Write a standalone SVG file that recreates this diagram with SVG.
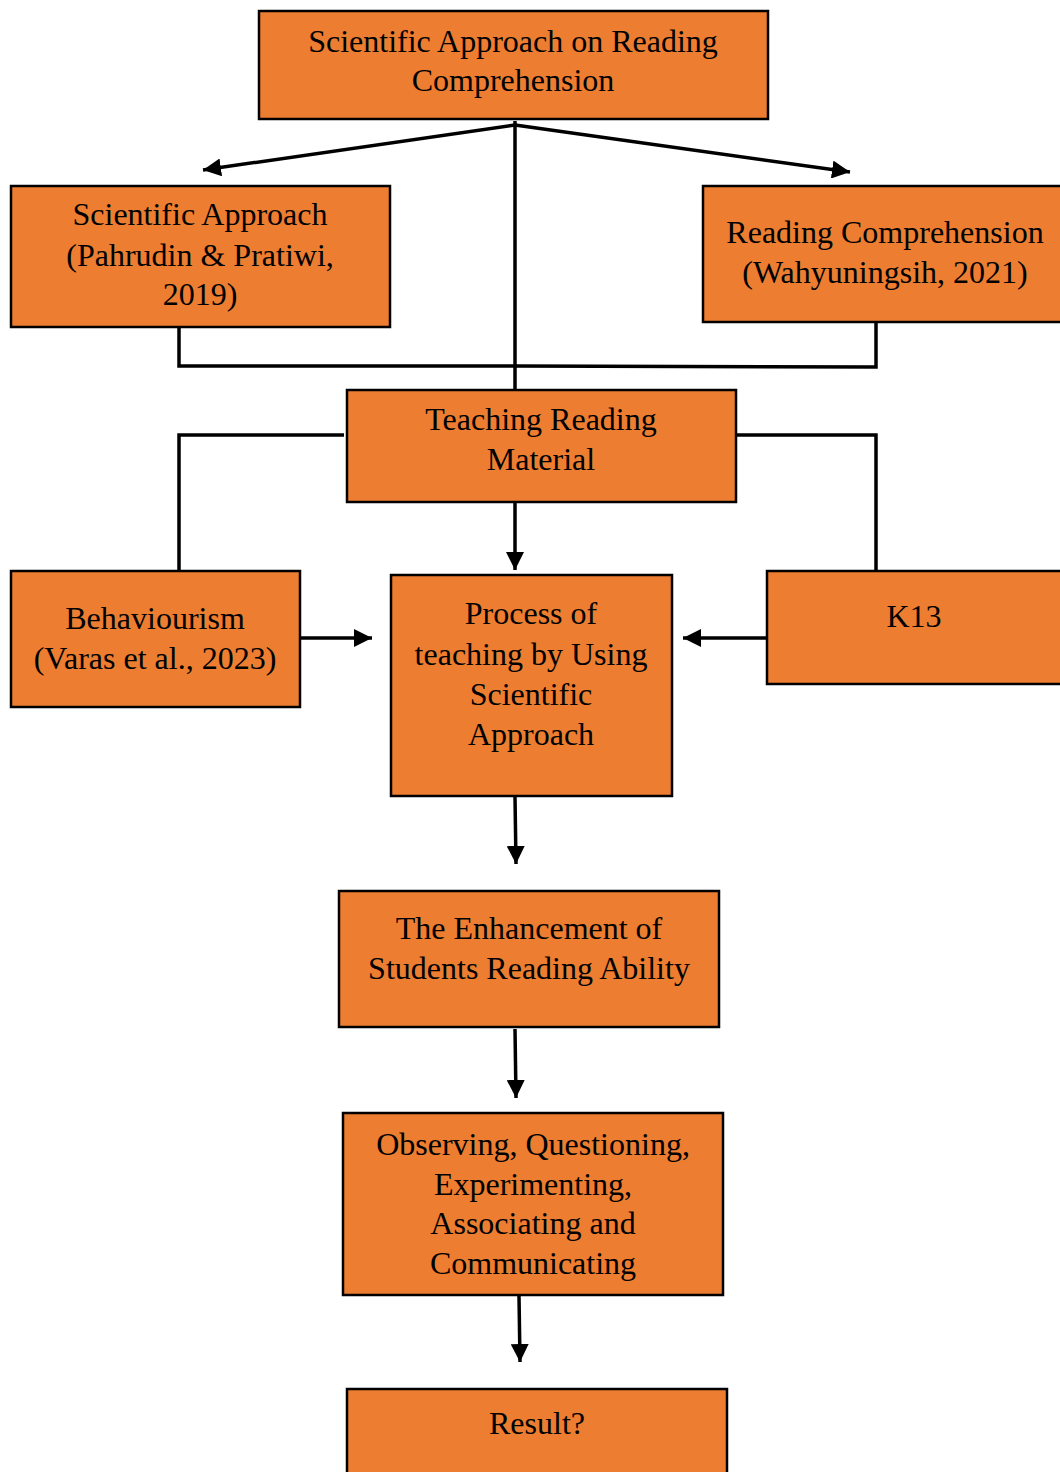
<svg xmlns="http://www.w3.org/2000/svg" width="1060" height="1472" viewBox="0 0 1060 1472">
<style>
.box{fill:#ED7D31;stroke:#000;stroke-width:2.5}
.t{font-family:"Liberation Serif","Times New Roman",serif;font-size:32px;fill:#000;text-anchor:middle}
.c{fill:none;stroke:#000;stroke-width:3.5}
</style>
<defs>
<marker id="ah" markerUnits="userSpaceOnUse" markerWidth="20" markerHeight="18" refX="18" refY="9" orient="auto">
<path d="M0,0 L18,9 L0,18 Z" fill="#000"/>
</marker>
</defs>
<rect width="1060" height="1472" fill="#fff"/>
<g id="connectors">
<line class="c" x1="515" y1="121" x2="515" y2="390"/>
<line class="c" x1="515" y1="125" x2="203" y2="170" marker-end="url(#ah)"/>
<line class="c" x1="515" y1="125" x2="850" y2="172" marker-end="url(#ah)"/>
<polyline class="c" points="179,327 179,366 515,366 876,367 876,322"/>
<polyline class="c" points="344,435 179,435 179,571"/>
<polyline class="c" points="736,435 876,435 876,571"/>
<line class="c" x1="515" y1="502" x2="515" y2="570" marker-end="url(#ah)"/>
<line class="c" x1="300" y1="638" x2="372" y2="638" marker-end="url(#ah)"/>
<line class="c" x1="767" y1="638" x2="683" y2="638" marker-end="url(#ah)"/>
<line class="c" x1="515" y1="797" x2="516" y2="864" marker-end="url(#ah)"/>
<line class="c" x1="515" y1="1029" x2="516" y2="1098" marker-end="url(#ah)"/>
<line class="c" x1="519" y1="1296" x2="520" y2="1362" marker-end="url(#ah)"/>
</g>
<g id="n1"><rect class="box" x="259" y="11" width="509" height="108"/>
<text class="t" x="513" y="52">Scientific Approach on Reading</text>
<text class="t" x="513" y="91">Comprehension</text></g>
<g id="n2"><rect class="box" x="11" y="186" width="379" height="141"/>
<text class="t" x="200" y="225">Scientific Approach</text>
<text class="t" x="200" y="266">(Pahrudin &amp; Pratiwi,</text>
<text class="t" x="200" y="305">2019)</text></g>
<g id="n3"><rect class="box" x="703" y="186" width="360" height="136"/>
<text class="t" x="885" y="243">Reading Comprehension</text>
<text class="t" x="885" y="283">(Wahyuningsih, 2021)</text></g>
<g id="n4"><rect class="box" x="347" y="390" width="389" height="112"/>
<text class="t" x="541" y="430">Teaching Reading</text>
<text class="t" x="541" y="470">Material</text></g>
<g id="n5"><rect class="box" x="11" y="571" width="289" height="136"/>
<text class="t" x="155" y="629">Behaviourism</text>
<text class="t" x="155" y="669">(Varas et al., 2023)</text></g>
<g id="n6"><rect class="box" x="391" y="575" width="281" height="221"/>
<text class="t" x="531" y="624">Process of</text>
<text class="t" x="531" y="665">teaching by Using</text>
<text class="t" x="531" y="705">Scientific</text>
<text class="t" x="531" y="745">Approach</text></g>
<g id="n7"><rect class="box" x="767" y="571" width="296" height="113"/>
<text class="t" x="914" y="627">K13</text></g>
<g id="n8"><rect class="box" x="339" y="891" width="380" height="136"/>
<text class="t" x="529" y="939">The Enhancement of</text>
<text class="t" x="529" y="979">Students Reading Ability</text></g>
<g id="n9"><rect class="box" x="343" y="1113" width="380" height="182"/>
<text class="t" x="533" y="1155">Observing, Questioning,</text>
<text class="t" x="533" y="1195">Experimenting,</text>
<text class="t" x="533" y="1234">Associating and</text>
<text class="t" x="533" y="1274">Communicating</text></g>
<g id="n10"><rect class="box" x="347" y="1389" width="380" height="100"/>
<text class="t" x="537" y="1434">Result?</text></g>
</svg>
